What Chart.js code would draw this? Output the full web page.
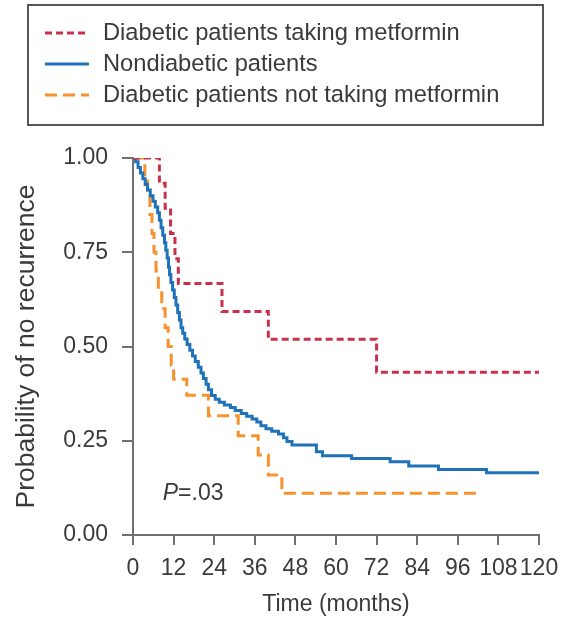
<!DOCTYPE html>
<html>
<head>
<meta charset="utf-8">
<script src="https://cdn.jsdelivr.net/npm/chart.js@4"></script>
<style>
  html, body { margin: 0; padding: 0; background: #fff; }
  #wrap { width: 563px; height: 622px; position: relative; }
</style>
</head>
<body>
<div id="wrap"><canvas id="kmChart"></canvas></div>
<script>
// Kaplan-Meier curves: time in months, probability of no recurrence
const metforminMonths = [0, 7.8, 9.5, 11.1, 12.4, 13.4, 26.3, 40, 72, 120];
const metforminSurv = [1, 0.933, 0.867, 0.8, 0.733, 0.667, 0.593, 0.519, 0.432, 0.432];

const nondiabeticMonths = [0, 0.8, 1.5, 2.2, 2.9, 3.6, 4.3, 5.1, 5.9, 6.6,
  7.3, 7.8, 8.3, 8.8, 9.3, 9.7, 10.1, 10.5, 10.8, 11.2,
  11.7, 12.2, 12.7, 13.2, 13.7, 14.2, 14.7, 15.3, 16.0, 16.8,
  17.6, 18.4, 19.3, 20.1, 20.8, 21.6, 22.3, 23.2, 24.3, 25.5,
  27.0, 28.8, 30.2, 32.0, 33.6, 35.2, 36.6, 37.8, 39.3, 41.0,
  43.0, 44.5, 45.5, 47.0, 54.2, 56.0, 64.6, 76.0, 81.5, 90.3,
  104.5, 120];
const nondiabeticSurv = [1, 0.99, 0.975, 0.96, 0.945, 0.93, 0.915, 0.9, 0.885, 0.87,
  0.855, 0.835, 0.815, 0.795, 0.775, 0.755, 0.735, 0.71, 0.69, 0.67,
  0.65, 0.63, 0.61, 0.59, 0.57, 0.55, 0.535, 0.52, 0.505, 0.49,
  0.475, 0.46, 0.445, 0.43, 0.415, 0.4, 0.385, 0.37, 0.36, 0.352,
  0.345, 0.338, 0.33, 0.322, 0.315, 0.308, 0.3, 0.29, 0.282, 0.275,
  0.268, 0.258, 0.248, 0.239, 0.221, 0.21, 0.203, 0.194, 0.183, 0.174,
  0.165, 0.165];

const noMetforminMonths = [0, 3.5, 4.3, 5.0, 5.6, 6.2, 6.8, 7.5, 8.5, 9.5,
  10.4, 11.3, 12.0, 15.9, 22.3, 31.1, 37.0, 40.0, 44.0, 102.6];
const noMetforminSurv = [1, 0.95, 0.9, 0.85, 0.8, 0.75, 0.7, 0.65, 0.6, 0.55,
  0.5, 0.45, 0.413, 0.371, 0.316, 0.263, 0.212, 0.159, 0.111, 0.111];

const seriesNames = [
  'Diabetic patients taking metformin',
  'Nondiabetic patients',
  'Diabetic patients not taking metformin'
];
const yTicks = [0, 0.25, 0.5, 0.75, 1];
const pValueText = '.03';

const FONT = '"Liberation Sans", Arial, Helvetica, sans-serif';
const AXIS = '#707070';
const TEXT = '#3a3a3a';

function toPoints(xs, ys) {
  return xs.map((x, i) => ({ x: x, y: ys[i] }));
}

// legend frame with line samples, plus the P value note
const annotations = {
  id: 'annotations',
  afterDraw(chart) {
    const ctx = chart.ctx;
    ctx.save();
    ctx.strokeStyle = '#555';
    ctx.lineWidth = 2;
    ctx.setLineDash([]);
    ctx.strokeRect(28, 5, 515, 120);

    const rows = [33, 64, 95];
    chart.data.datasets.forEach((ds, i) => {
      const y = rows[i];
      ctx.strokeStyle = ds.borderColor;
      ctx.lineWidth = ds.borderWidth;
      ctx.setLineDash(ds.borderDash || []);
      ctx.beginPath();
      ctx.moveTo(45, y);
      ctx.lineTo(89, y);
      ctx.stroke();
      ctx.setLineDash([]);
      ctx.fillStyle = TEXT;
      ctx.font = '23.7px ' + FONT;
      ctx.textBaseline = 'middle';
      ctx.textAlign = 'left';
      ctx.fillText(ds.label, 103, y);
    });

    const xs = chart.scales.x, ys = chart.scales.y;
    const px = xs.getPixelForValue(8.8);
    const py = ys.getPixelForValue(0.11);
    ctx.fillStyle = TEXT;
    ctx.textBaseline = 'middle';
    ctx.font = 'italic 23px ' + FONT;
    ctx.fillText('P', px, py);
    const w = ctx.measureText('P').width;
    ctx.font = '23px ' + FONT;
    ctx.fillText('=' + pValueText, px + w, py);
    ctx.restore();
  }
};

const config = {
  type: 'line',
  data: {
    datasets: [{
      label: seriesNames[0],
      data: toPoints(metforminMonths, metforminSurv),
      borderColor: '#c9304c',
      borderWidth: 3,
      borderDash: [7, 4],
      stepped: true,
      pointRadius: 0,
      fill: false
    }, {
      label: seriesNames[1],
      data: toPoints(nondiabeticMonths, nondiabeticSurv),
      borderColor: '#1f72b8',
      borderWidth: 3,
      stepped: true,
      pointRadius: 0,
      fill: false
    }, {
      label: seriesNames[2],
      data: toPoints(noMetforminMonths, noMetforminSurv),
      borderColor: '#f7922e',
      borderWidth: 3,
      borderDash: [12, 6],
      stepped: true,
      pointRadius: 0,
      fill: false
    }]
  },
  options: {
    responsive: true,
    maintainAspectRatio: false,
    animation: false,
    layout: { padding: { top: 158, right: 24, bottom: 0, left: 0 } },
    plugins: {
      legend: { display: false },
      tooltip: { enabled: false }
    },
    scales: {
      x: {
        type: 'linear',
        min: 0,
        max: 120,
        afterFit(scale) {
          scale.height = 87;
          scale.paddingLeft = 0;
          scale.paddingRight = 0;
        },
        afterBuildTicks(scale) {
          scale.ticks = [];
          for (let m = 0; m <= 120; m += 12) scale.ticks.push({ value: m });
        },
        ticks: {
          color: TEXT,
          font: { family: FONT, size: 23 },
          padding: 10,
          maxRotation: 0,
          autoSkip: false
        },
        grid: {
          drawOnChartArea: false,
          drawTicks: true,
          tickLength: 10,
          color: AXIS,
          lineWidth: 2
        },
        border: { display: true, color: AXIS, width: 2 },
        title: {
          display: true,
          text: 'Time (months)',
          color: TEXT,
          font: { family: FONT, size: 23 },
          padding: { top: 2, bottom: 4 }
        }
      },
      y: {
        min: 0,
        max: 1,
        afterFit(scale) { scale.width = 133; },
        afterBuildTicks(scale) {
          scale.ticks = yTicks.map(v => ({ value: v }));
        },
        ticks: {
          color: TEXT,
          font: { family: FONT, size: 23 },
          padding: 14,
          callback: v => v.toFixed(2)
        },
        grid: {
          drawOnChartArea: false,
          drawTicks: true,
          tickLength: 11,
          color: AXIS,
          lineWidth: 2
        },
        border: { display: true, color: AXIS, width: 2 },
        title: {
          display: true,
          text: 'Probability of no recurrence',
          color: TEXT,
          font: { family: FONT, size: 26.5 },
          padding: { top: 11, bottom: 0 }
        }
      }
    }
  },
  plugins: [annotations]
};

const kmChart = new Chart(document.getElementById('kmChart'), config);
</script>
</body>
</html>
